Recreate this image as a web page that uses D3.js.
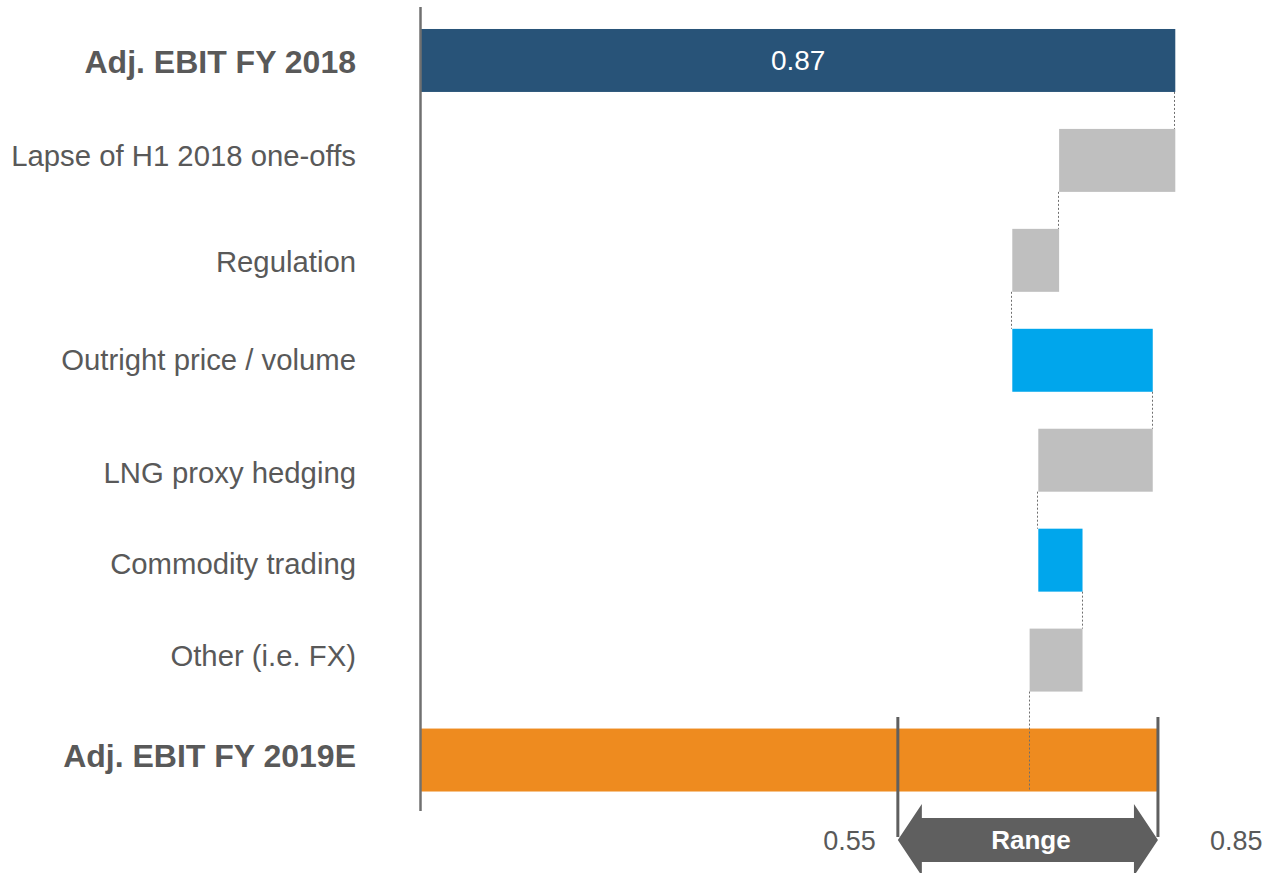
<!DOCTYPE html>
<html>
<head>
<meta charset="utf-8">
<script src="https://cdn.jsdelivr.net/npm/d3@7"></script>
<style>
  body { margin: 0; background: #fff; }
  text { font-family: "Liberation Sans", Arial, sans-serif; }
</style>
</head>
<body>
<div id="chart"></div>
<script>

// rows of the bridge, top to bottom
categories = ["Adj. EBIT FY 2018", "Lapse of H1 2018 one-offs", "Regulation", "Outright price / volume",
              "LNG proxy hedging", "Commodity trading", "Other (i.e. FX)", "Adj. EBIT FY 2019E"]
start_value = 0.87
deltas      = [-0.134, -0.054, 0.162, -0.132, 0.051, -0.061]
end_value   = 0.85
range_vals  = [0.55, 0.85]
range_text  = ["0.55", "0.85"]
range_label = "Range"
value_label = "0.87"

// slide labels are not exactly centred on their bars
label_shift = [12.8, 5.2, 11.8, 10.2, 23.2, 13.8, 5.5, 7.2]

var width = 1268, height = 873

var svg = d3.select("#chart").append("svg")
  .attr("width", width)
  .attr("height", height)

var x = d3.scaleLinear().domain([0, 1]).range([421, 1288])
var y = d3.scaleBand().domain(categories).range([10.5, 810]).paddingInner(0.37).paddingOuter(0.185)

// build the bar list
var bars = []
bars.push({cat: categories[0], x0: 0, x1: start_value, color: "#285378"})
var level = start_value
for (var i = 0; i < deltas.length; i++) {
  var next = Math.round((level + deltas[i]) * 1000) / 1000
  bars.push({
    cat: categories[i + 1],
    x0: Math.min(level, next),
    x1: Math.max(level, next),
    end: next,
    color: deltas[i] > 0 ? "#00A6EC" : "#BFBFBF"
  })
  level = next
}
bars.push({cat: categories[7], x0: 0, x1: end_value, color: "#EE8B1F"})

svg.selectAll(".bar").data(bars).enter()
  .append("rect")
  .attr("class", "bar")
  .attr("x", function(d) { return x(d.x0) })
  .attr("y", function(d) { return y(d.cat) })
  .attr("width", function(d) { return x(d.x1) - x(d.x0) })
  .attr("height", y.bandwidth())
  .attr("fill", function(d) { return d.color })

// dotted connectors between bars
var links = []
for (var i = 0; i < bars.length - 1; i++) {
  var xv = i == 0 ? start_value : bars[i].end
  var y_from = y(categories[i]) + y.bandwidth()
  var y_to = i == bars.length - 2 ? y(categories[i + 1]) + y.bandwidth() : y(categories[i + 1])
  links.push({x: xv, y1: y_from, y2: y_to})
}

svg.selectAll(".link").data(links).enter()
  .append("line")
  .attr("class", "link")
  .attr("x1", function(d) { return Math.round(x(d.x)) - 0.5 })
  .attr("x2", function(d) { return Math.round(x(d.x)) - 0.5 })
  .attr("y1", function(d) { return d.y1 })
  .attr("y2", function(d) { return d.y2 })
  .attr("stroke", "#6f6f6f")
  .attr("stroke-width", 1)
  .attr("stroke-dasharray", "2,2")

// vertical axis line
svg.append("line")
  .attr("x1", x(0) - 0.5).attr("x2", x(0) - 0.5)
  .attr("y1", 7).attr("y2", 811)
  .attr("stroke", "#707070")
  .attr("stroke-width", 2.5)

// category labels
svg.selectAll(".cat").data(categories).enter()
  .append("text")
  .attr("class", "cat")
  .attr("x", 356)
  .attr("y", function(d, i) { return y(d) + y.bandwidth() / 2 + label_shift[i] })
  .attr("text-anchor", "end")
  .attr("fill", "#595959")
  .attr("font-size", function(d, i) { return (i == 0 || i == 7) ? "32px" : "29.3px" })
  .attr("font-weight", function(d, i) { return (i == 0 || i == 7) ? "bold" : "normal" })
  .text(function(d) { return d })

// value in first bar
svg.append("text")
  .attr("x", (x(0) + x(start_value)) / 2)
  .attr("y", y(categories[0]) + y.bandwidth() / 2 + 10)
  .attr("text-anchor", "middle")
  .attr("fill", "#fff")
  .attr("font-size", "28px")
  .text(value_label)

// range annotation
var rx0 = x(range_vals[0]), rx1 = x(range_vals[1])
var ry = 840
svg.selectAll(".rtick").data(range_vals).enter()
  .append("line")
  .attr("class", "rtick")
  .attr("x1", function(d) { return x(d) }).attr("x2", function(d) { return x(d) })
  .attr("y1", 717).attr("y2", 837)
  .attr("stroke", "#5f5f5f")
  .attr("stroke-width", 3)

var head = 24, hh = 36, bh = 22
svg.append("path")
  .attr("d", "M" + rx0 + "," + ry +
    "L" + (rx0 + head) + "," + (ry - hh) +
    "L" + (rx0 + head) + "," + (ry - bh) +
    "L" + (rx1 - head) + "," + (ry - bh) +
    "L" + (rx1 - head) + "," + (ry - hh) +
    "L" + rx1 + "," + ry +
    "L" + (rx1 - head) + "," + (ry + hh) +
    "L" + (rx1 - head) + "," + (ry + bh) +
    "L" + (rx0 + head) + "," + (ry + bh) +
    "L" + (rx0 + head) + "," + (ry + hh) + "Z")
  .attr("fill", "#5f5f5f")

svg.append("text")
  .attr("x", (rx0 + rx1) / 2 + 3)
  .attr("y", ry + 9)
  .attr("text-anchor", "middle")
  .attr("fill", "#fff")
  .attr("font-size", "26px")
  .attr("font-weight", "bold")
  .text(range_label)

svg.append("text")
  .attr("x", rx0 - 22)
  .attr("y", ry + 10)
  .attr("text-anchor", "end")
  .attr("fill", "#595959")
  .attr("font-size", "27px")
  .text(range_text[0])

svg.append("text")
  .attr("x", rx1 + 52)
  .attr("y", ry + 10)
  .attr("text-anchor", "start")
  .attr("fill", "#595959")
  .attr("font-size", "27px")
  .text(range_text[1])

</script>
</body>
</html>
